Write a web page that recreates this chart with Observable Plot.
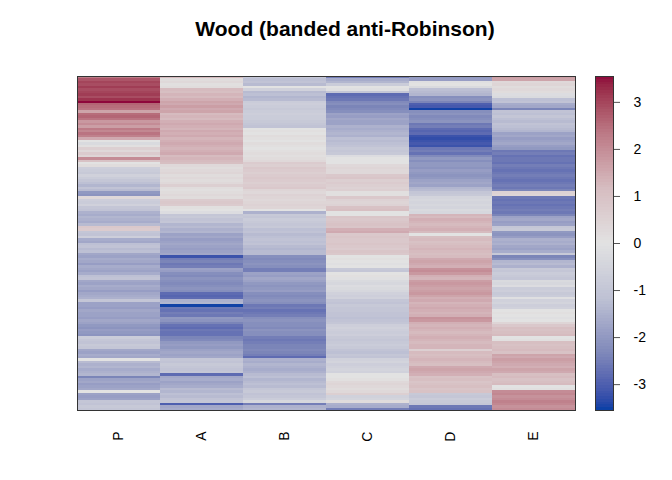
<!DOCTYPE html>
<html>
<head>
<meta charset="utf-8">
<script src="https://cdn.jsdelivr.net/npm/d3@7"></script>
<script src="https://cdn.jsdelivr.net/npm/@observablehq/plot@0.6"></script>
<style>
  html, body { margin: 0; padding: 0; background: #fff; }
  #wrap { position: relative; width: 672px; height: 480px; font-family: "Liberation Sans", Arial, sans-serif; }
  #title { position: absolute; left: 0; top: 17px; width: 690px; text-align: center; font-size: 21px; line-height: 24px; font-weight: bold; color: #000; }
  #main { position: absolute; left: 0; top: 0; }
  #key { position: absolute; left: 595px; top: 0; }
</style>
</head>
<body>
<div id="wrap">
  <div id="main"></div>
  <div id="key"></div>
  <div id="title">Wood (banded anti-Robinson)</div>
</div>
<script>
const columns = ["P", "A", "B", "C", "D", "E"];

const P = [
  2.3,2.8,3.0,2.9,3.1,2.9,3.0,3.1,2.9,3.2,
  3.6,2.6,2.5,2.4,1.6,2.5,2.6,2.4,1.8,2.0,
  1.7,2.3,2.1,2.4,2.2,1.5,0.0,-0.3,0.1,0.6,
  0.3,0.7,0.4,2.0,1.0,0.0,0.2,-0.7,-0.8,-0.9,
  -0.6,-0.8,-1.0,-1.2,-1.4,-1.1,-1.3,-2.0,-2.1,0.3,
  -0.7,-0.8,-0.6,-1.0,-1.1,-1.5,-1.6,-1.4,-1.5,-1.6,
  -1.3,0.8,0.7,-1.0,-1.1,-0.7,-1.6,-1.7,-1.2,-1.1,
  -1.3,-1.2,-1.7,-1.8,-1.6,-1.7,-1.9,-1.6,-1.7,-1.8,
  -1.6,-1.2,-1.1,-1.7,-1.8,-1.6,-1.7,-1.9,-1.7,-1.6,
  -1.5,-1.0,-1.8,-1.8,-1.9,-1.7,-1.8,-1.8,-1.9,-1.7,
  -1.8,-2.0,-2.1,-1.9,-2.0,-2.1,-0.8,-1.0,-1.1,-0.9,
  -1.0,-1.7,-1.8,-1.6,-1.7,0.0,-1.3,-1.5,-1.4,-1.6,
  -1.5,-1.4,-2.4,-1.8,-1.7,-1.9,-1.8,-1.7,0.0,-1.8,
  -1.9,-1.8,-1.0,-1.1,-0.9,-1.0
];

const A = [
  1.2,0.2,0.3,0.1,0.2,1.2,1.1,1.3,1.2,1.4,
  1.6,1.5,1.7,1.5,1.6,1.2,1.3,1.2,1.4,1.5,
  1.4,1.3,1.5,1.4,1.5,1.3,1.4,1.5,1.4,1.3,
  1.4,1.5,1.2,1.3,1.2,1.1,0.3,0.2,0.3,0.4,
  0.2,0.3,0.2,0.3,0.6,0.2,0.1,0.2,0.3,0.2,
  0.7,0.8,0.7,0.1,0.0,-0.2,-1.0,-0.9,-1.1,-1.0,
  -1.4,-1.3,-1.5,-1.4,-1.8,-1.7,-1.9,-1.8,-1.7,-1.8,
  -1.9,-1.8,-1.7,-3.2,-2.5,-2.4,-2.6,-2.5,-1.8,-1.9,
  -2.2,-2.3,-2.1,-2.2,-2.3,-2.2,-2.1,-2.2,-2.8,-2.9,
  -2.8,-1.5,-1.4,-3.5,-2.6,-2.7,-2.5,-2.6,-2.0,-2.1,
  -2.4,-2.7,-2.8,-2.6,-2.7,-2.7,-2.4,-2.3,-2.0,-1.9,
  -2.0,-1.8,-1.7,-1.8,-1.7,-1.0,-1.1,-0.9,-1.0,-1.1,
  -1.0,-2.8,-1.7,-1.6,-1.8,-1.7,-1.6,-1.3,-1.4,-1.2,
  -1.3,-1.1,-1.0,-3.0,-1.7,-1.6
];

const B = [
  -1.0,-1.2,-1.1,-1.3,0.0,-0.6,-1.3,-1.2,-1.4,-1.3,
  -0.8,-0.7,-0.8,-0.9,-0.8,-0.7,-0.8,-0.8,-0.9,-1.0,
  -1.1,0.0,0.1,0.0,0.2,0.1,0.0,0.2,0.1,0.0,
  0.1,0.2,0.1,0.2,0.3,0.7,0.6,0.8,0.7,0.6,
  0.7,0.8,0.7,0.6,0.7,0.8,0.4,0.3,0.5,0.4,
  0.3,0.4,0.5,0.4,0.0,-1.5,-0.9,-1.0,-0.8,-0.9,
  -1.0,-0.9,-1.2,-1.1,-1.3,-1.2,-1.1,-1.2,-1.1,-1.3,
  -1.4,-1.3,-1.3,-2.2,-2.3,-2.2,-2.1,-2.2,-2.5,-2.5,
  -1.8,-1.9,-1.7,-1.8,-2.0,-2.1,-2.0,-1.9,-2.2,-2.3,
  -2.2,-2.1,-2.2,-2.6,-2.5,-2.7,-2.6,-2.5,-2.2,-2.1,
  -2.2,-2.2,-2.3,-2.1,-2.2,-2.2,-2.5,-2.6,-2.5,-2.4,
  -2.4,-2.3,-2.4,-2.5,-2.8,-1.5,-1.6,-1.4,-1.5,-1.6,
  -1.5,-1.3,-1.2,-1.4,-1.3,-1.2,-1.3,-1.0,-0.9,-1.1,
  -1.0,-0.8,-0.4,-2.5,-1.5,-1.4
];

const C = [
  -2.5,-1.6,-1.4,-0.8,0.0,-0.1,-1.0,-2.8,-2.7,-2.6,
  -2.3,-2.2,-2.4,-2.3,-2.2,-1.8,-1.9,-1.7,-1.8,-1.8,
  -1.5,-1.6,-1.5,-1.4,-1.5,-1.2,-1.3,-1.2,-1.1,-0.9,
  -1.0,-0.9,-0.2,0.0,0.0,0.0,0.3,0.4,0.3,0.3,
  0.8,0.9,0.6,0.7,0.6,0.5,0.6,0.1,0.1,0.8,
  0.5,0.4,0.5,1.0,1.1,0.0,0.0,0.9,0.8,0.9,
  1.0,0.9,1.4,1.5,0.8,0.9,0.8,0.8,0.9,0.8,
  0.7,0.9,0.8,0.0,0.1,0.0,-0.1,0.0,-0.9,-1.0,
  0.0,0.1,-0.1,-0.3,-0.4,-0.2,-0.3,-0.4,-0.6,-0.7,
  -0.6,-1.0,-1.1,-0.9,-1.0,-1.0,-1.1,-1.1,-1.2,-1.1,
  -1.0,-0.7,-0.6,-0.7,-0.8,-0.7,-0.9,-1.0,-0.9,-0.8,
  -0.9,-1.1,-1.2,-1.0,-1.1,-0.6,-0.5,-0.7,-0.6,-0.5,
  -0.6,0.0,0.0,0.1,0.3,0.4,0.3,0.2,0.3,0.6,
  -0.6,-0.5,0.2,-1.5,-1.6,-2.5
];

const D = [
  -2.0,-1.9,-0.1,0.0,-0.3,-1.2,-1.3,-1.4,-2.2,-2.1,
  -2.4,-3.0,-3.1,-3.5,-2.2,-2.1,-2.3,-2.2,-2.1,-2.6,
  -2.5,-2.8,-2.9,-2.8,-3.2,-3.3,-3.2,-3.1,-3.2,-2.6,
  -2.5,-2.7,-2.3,-2.0,-2.2,-2.0,-2.0,-2.1,-1.9,-2.0,
  -2.1,-2.0,-1.8,-1.7,-1.8,-1.4,-1.3,-1.0,-0.9,-0.5,
  -0.4,-0.5,-0.4,-0.5,-0.3,-0.4,1.3,1.2,1.4,1.3,
  1.2,1.3,1.4,1.2,0.0,1.1,1.2,1.0,1.1,1.2,
  1.3,1.2,1.1,1.2,1.5,1.6,1.5,1.4,1.9,2.0,
  1.8,1.4,1.3,1.7,1.8,1.7,1.6,1.7,1.8,1.6,
  1.4,1.5,1.3,1.4,1.5,1.4,1.3,1.4,1.9,1.8,
  1.4,1.3,1.4,1.3,1.2,1.3,1.4,1.3,1.2,1.3,
  1.3,0.6,1.2,1.1,1.2,1.3,1.2,1.1,1.5,1.6,
  1.5,1.4,1.0,1.1,0.9,1.0,1.1,0.9,1.0,-0.9,
  -1.0,-0.8,-0.9,-1.0,-2.6,-2.7
];

const E = [
  1.7,1.6,0.3,0.4,0.2,0.3,0.2,-0.2,-0.3,-1.2,
  -1.1,-1.6,-1.7,-2.4,-1.1,-1.2,-1.0,-1.2,-1.3,-1.1,
  -1.2,-1.3,-1.4,-1.8,-1.7,-1.9,-1.8,-1.7,-1.9,-2.0,
  -2.6,-2.5,-2.7,-2.6,-2.6,-2.7,-2.5,-2.6,-2.7,-2.6,
  -2.5,-2.6,-2.7,-2.6,-2.5,-2.6,-2.4,0.5,0.4,-2.6,
  -2.7,-2.6,-2.7,-2.6,-2.5,-2.6,-2.4,-1.8,-1.7,-1.9,
  -1.8,-1.0,-0.9,-2.0,-2.1,-1.9,-1.5,-1.6,-1.5,-1.7,
  -1.8,-1.6,-0.9,-2.4,-2.2,-1.4,-1.3,-1.5,-0.9,-1.0,
  -0.8,-0.9,-1.0,-0.3,-0.4,-0.2,-0.8,-0.7,-0.9,-0.8,
  -0.1,-0.6,-0.5,-0.7,-0.6,0.0,0.1,0.0,-0.1,0.0,
  0.4,0.8,1.1,1.0,1.1,1.2,0.0,0.1,1.1,1.0,
  1.1,1.2,1.0,1.6,1.5,1.7,1.6,1.5,1.4,1.6,
  1.5,1.1,1.2,1.0,1.1,1.2,0.0,0.1,2.0,2.1,
  1.9,2.0,2.2,2.1,1.9,2.0
];

const legendTicks = [-3, -2, -1, 0, 1, 2, 3];
const paletteColors = ["#023FA5", "#7D87B9", "#BEC1D4", "#E2E2E2", "#D6BCC0", "#BB7784", "#8E063B"];
const zMax = 3.55;

const series = {P, A, B, C, D, E};
const nRows = P.length;
const rows = [];
for (const col of columns) {
  series[col].forEach((v, i) => rows.push({col, row: i, value: v}));
}

const colorDomain = paletteColors.map((_, i) => -zMax + (2 * zMax) * i / (paletteColors.length - 1));
const colorScale = {type: "linear", domain: colorDomain, range: paletteColors, interpolate: "lab", clamp: true};

const font = '"Liberation Sans", Arial, sans-serif';

const main = Plot.plot({
  width: 672,
  height: 480,
  marginLeft: 77,
  marginRight: 97,
  marginTop: 76,
  marginBottom: 70,
  style: {fontFamily: font, fontSize: "14px", color: "#000", background: "transparent"},
  x: {domain: columns, padding: 0, axis: null},
  y: {domain: d3.range(nRows), padding: 0, axis: null},
  color: colorScale,
  marks: [
    Plot.cell(rows, {x: "col", y: "row", fill: "value", inset: 0, shapeRendering: "crispEdges"}),
    Plot.frame({stroke: "#333", strokeWidth: 1}),
    Plot.text(columns, {x: d => d, frameAnchor: "bottom", dy: 21, rotate: -90, textAnchor: "end", lineAnchor: "middle", fontSize: 14, fill: "#000"})
  ]
});
document.getElementById("main").appendChild(main);

// colour key
const nSteps = 120;
const stepSize = 2 * zMax / nSteps;
const keySteps = d3.range(nSteps).map(i => -zMax + i * stepSize);
const key = Plot.plot({
  width: 77,
  height: 480,
  marginLeft: 0,
  marginRight: 59,
  marginTop: 76,
  marginBottom: 70,
  style: {fontFamily: font, fontSize: "14px", color: "#000", background: "transparent"},
  x: {domain: [0, 1], axis: null},
  y: {domain: [-zMax, zMax], axis: null},
  color: colorScale,
  marks: [
    Plot.rect(keySteps, {x1: 0, x2: 1, y1: d => d, y2: d => d + stepSize + 0.005, fill: d => d + stepSize / 2, shapeRendering: "crispEdges"}),
    Plot.frame({stroke: "#333", strokeWidth: 1}),
    Plot.axisY({anchor: "right", ticks: legendTicks, tickSize: 6, tickPadding: 14, tickFormat: d => d, fontSize: 14, label: null, stroke: "#555"})
  ]
});
document.getElementById("key").appendChild(key);
</script>
</body>
</html>
